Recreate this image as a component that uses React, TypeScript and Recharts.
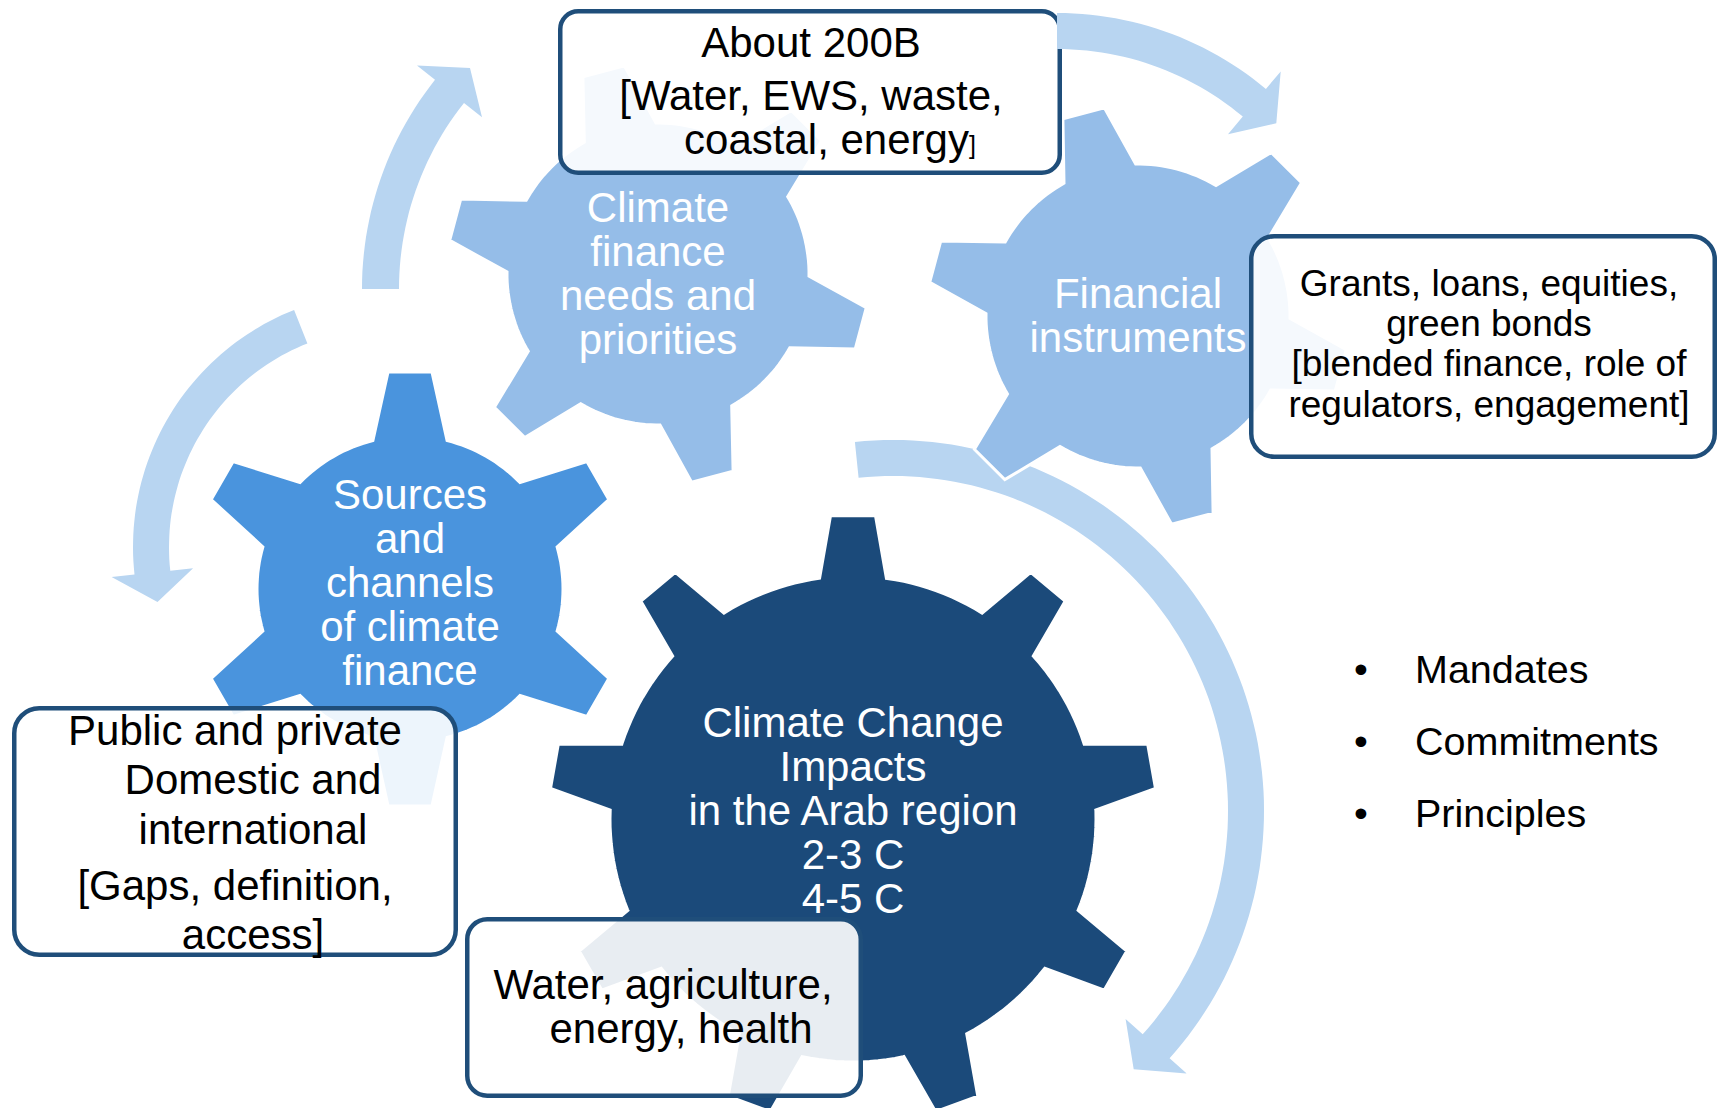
import React from "react";
import { ScatterChart, Scatter, XAxis, YAxis } from "recharts";

const W = 1719;
const H = 1108;
const FONT = '"Liberation Sans", Arial, Helvetica, sans-serif';

// diagram units are page pixels, origin at the top-left corner

const gears = [
  { name: "needs", x: 658, y: 274, teeth: 6, phase: 165 },
  { name: "instruments", x: 1138, y: 316, teeth: 6, phase: 165 },
  { name: "sources", x: 410, y: 589, teeth: 6, phase: 90 },
  { name: "impacts", x: 853, y: 819, teeth: 9, phase: 90 },
];

// curved arrows: centre of the arc, tail angle, head base angle, tip angle (degrees, y up)
const arrowsBack = [
  { name: "around", x: 893, y: 811, from: 95.9, head: -41.8, to: -47 },
  { name: "left", x: 388, y: 547, from: 111.6, head: 186.2, to: 193.4 },
  { name: "upLeft", x: 698, y: 289, from: 180, head: 141.5, to: 135.9 },
];
const arrowsFront = [{ name: "upRight", x: 1057, y: 338, from: 90, head: 50, to: 44.4 }];

const boxes = [
  { name: "A", x: 810, y: 92 },
  { name: "B", x: 1483, y: 346.5 },
  { name: "C", x: 235, y: 831.5 },
  { name: "D", x: 664, y: 1007.5 },
];

const needsText = ["Climate", "finance", "needs and", "priorities"];
const instrumentsText = ["Financial", "instruments"];
const sourcesText = ["Sources", "and", "channels", "of climate", "finance"];
const impactsText = ["Climate Change", "Impacts", "in the Arab region", "2-3 C", "4-5 C"];
const boxAText = ["About 200B", "[Water, EWS, waste,", "coastal, energy"];
const boxBText = [
  "Grants, loans, equities,",
  "green bonds",
  "[blended finance, role of",
  "regulators, engagement]",
];
const boxCText = ["Public and private", "Domestic and", "international", "[Gaps, definition,", "access]"];
const boxDText = ["Water, agriculture,", "energy, health"];
const bulletText = ["Mandates", "Commitments", "Principles"];

const GEAR_LOOK: Record<string, { body: number; outer: number; tip: number; base: number; fill: string }> = {
  needs: { body: 151, outer: 211, tip: 43, base: 75, fill: "#95bde8" },
  instruments: { body: 152, outer: 211, tip: 43, base: 75, fill: "#95bde8" },
  sources: { body: 153, outer: 218, tip: 44, base: 75, fill: "#4a94dd" },
  impacts: { body: 243, outer: 304, tip: 45, base: 67, fill: "#1b4a7a" },
};
const ARROW_LOOK: Record<string, { outer: number; inner: number }> = {
  around: { outer: 371, inner: 335 },
  left: { outer: 255, inner: 219 },
  upLeft: { outer: 336, inner: 299 },
  upRight: { outer: 325, inner: 289 },
};
const BARB = 23;
const ARROW_FILL = "#b8d5f1";
const BOX_LOOK: Record<string, { w: number; h: number; r: number }> = {
  A: { w: 504, h: 166, r: 18 },
  B: { w: 468, h: 225, r: 23 },
  C: { w: 446, h: 251, r: 25 },
  D: { w: 398, h: 181, r: 20 },
};
const BOX_STROKE = "#1f4e7a";

const rows = (texts: string[], x: number, y0: number, step: number) =>
  texts.map((text, i) => ({ x, y: y0 + i * step, text }));

const whiteLabels = [
  ...rows(needsText, 658, 222, 44),
  ...rows(instrumentsText, 1138, 308, 44),
  ...rows(sourcesText, 410, 509, 44),
  ...rows(impactsText, 853, 737, 44),
];

const boxCX = [235, 253, 253, 235, 253];
const boxCY = [745, 794, 844, 900, 949];
const boxDX = [663, 681];
const boxDY = [999, 1043];
const darkLabels = [
  { x: 811, y: 57, text: boxAText[0] },
  { x: 811, y: 110, text: boxAText[1] },
  { x: 830, y: 154, text: boxAText[2], tail: "]" },
  ...boxCText.map((text, i) => ({ x: boxCX[i], y: boxCY[i], text })),
  ...boxDText.map((text, i) => ({ x: boxDX[i], y: boxDY[i], text })),
];
const boxBLabels = rows(boxBText, 1489, 296, 40.2);
const bulletLabels = rows(bulletText, 1415, 683, 72);
const bulletDots = rows(bulletText.map(() => "•"), 1361, 683, 72);

const rad = (d: number) => (d * Math.PI) / 180;
const pt = (cx: number, cy: number, r: number, deg: number) =>
  `${(cx + r * Math.cos(rad(deg))).toFixed(1)},${(cy - r * Math.sin(rad(deg))).toFixed(1)}`;

function gearPath(cx: number, cy: number, teeth: number, phase: number, look: { body: number; outer: number; tip: number; base: number }) {
  const step = 360 / teeth;
  const b = (look.base / 2 / look.body) * (180 / Math.PI);
  const t = (look.tip / 2 / look.outer) * (180 / Math.PI);
  const pts: string[] = [];
  for (let k = 0; k < teeth; k++) {
    const a = phase + k * step;
    pts.push(pt(cx, cy, look.body, a - b));
    pts.push(pt(cx, cy, look.outer, a - t));
    pts.push(pt(cx, cy, look.outer, a + t));
    pts.push(pt(cx, cy, look.body, a + b));
    const end = a + step - b;
    for (let d = a + b + 2; d < end; d += 2) pts.push(pt(cx, cy, look.body, d));
  }
  return "M" + pts.join("L") + "Z";
}

function arrowPath(cx: number, cy: number, a: { from: number; head: number; to: number }, look: { outer: number; inner: number }) {
  const n = Math.ceil(Math.abs(a.head - a.from) / 1.5);
  const pts: string[] = [];
  for (let i = 0; i <= n; i++) pts.push(pt(cx, cy, look.outer, a.from + ((a.head - a.from) * i) / n));
  pts.push(pt(cx, cy, look.outer + BARB, a.head));
  pts.push(pt(cx, cy, (look.outer + look.inner) / 2, a.to));
  pts.push(pt(cx, cy, look.inner - BARB, a.head));
  for (let i = n; i >= 0; i--) pts.push(pt(cx, cy, look.inner, a.from + ((a.head - a.from) * i) / n));
  return "M" + pts.join("L") + "Z";
}

const renderGear = (p: any) => {
  const g = p.payload;
  const look = GEAR_LOOK[g.name];
  return <path d={gearPath(p.cx, p.cy, g.teeth, g.phase, look)} fill={look.fill} stroke="#ffffff" strokeWidth={3} strokeLinejoin="miter" />;
};

const renderArrow = (p: any) => {
  const a = p.payload;
  return <path d={arrowPath(p.cx, p.cy, a, ARROW_LOOK[a.name])} fill={ARROW_FILL} stroke="none" />;
};

const renderBox = (p: any) => {
  const look = BOX_LOOK[p.payload.name];
  const sw = 4.5;
  return (
    <rect
      x={p.cx - look.w / 2 + sw / 2}
      y={p.cy - look.h / 2 + sw / 2}
      width={look.w - sw}
      height={look.h - sw}
      rx={look.r}
      ry={look.r}
      fill="#ffffff"
      fillOpacity={0.9}
      stroke={BOX_STROKE}
      strokeWidth={sw}
    />
  );
};

const labelShape = (size: number, color: string, anchor: "middle" | "start") => (p: any) => {
  const d = p.payload;
  return (
    <text x={p.cx} y={p.cy} textAnchor={anchor} fontSize={size} fill={color} fontFamily={FONT}>
      {d.text}
      {d.tail ? <tspan fontSize={25}>{d.tail}</tspan> : null}
    </text>
  );
};

export default function App() {
  return (
    <div style={{ position: "absolute", left: 0, top: 0, width: W, height: H, background: "#ffffff" }}>
      <ScatterChart width={W} height={H} margin={{ top: 0, right: 0, bottom: 0, left: 0 }}>
        <XAxis type="number" dataKey="x" domain={[0, W]} hide height={0} />
        <YAxis type="number" dataKey="y" domain={[0, H]} reversed hide width={0} />
        <Scatter data={arrowsBack} shape={renderArrow} isAnimationActive={false} />
        <Scatter data={gears} shape={renderGear} isAnimationActive={false} />
        <Scatter data={boxes} shape={renderBox} isAnimationActive={false} />
        <Scatter data={arrowsFront} shape={renderArrow} isAnimationActive={false} />
        <Scatter data={whiteLabels} shape={labelShape(42, "#ffffff", "middle")} isAnimationActive={false} />
        <Scatter data={darkLabels} shape={labelShape(42, "#000000", "middle")} isAnimationActive={false} />
        <Scatter data={boxBLabels} shape={labelShape(37, "#000000", "middle")} isAnimationActive={false} />
        <Scatter data={bulletLabels} shape={labelShape(39.5, "#000000", "start")} isAnimationActive={false} />
        <Scatter data={bulletDots} shape={labelShape(39.5, "#000000", "middle")} isAnimationActive={false} />
      </ScatterChart>
    </div>
  );
}
